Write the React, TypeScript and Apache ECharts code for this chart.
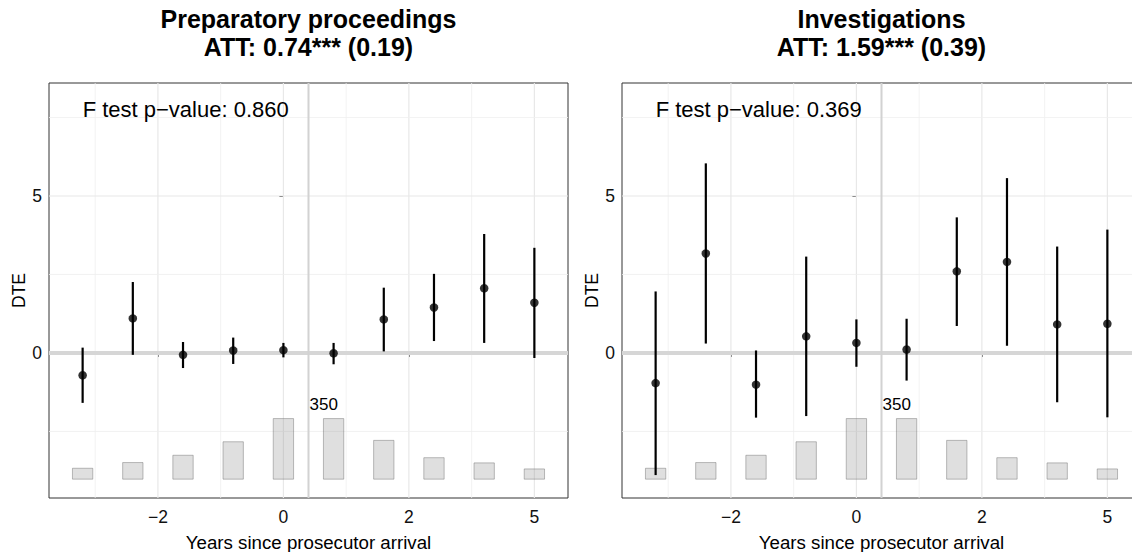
import React, { useEffect, useRef } from 'react';
import * as echarts from 'echarts';

// ---- data ----
const eventTimes = [-3.2, -2.4, -1.6, -0.8, 0, 0.8, 1.6, 2.4, 3.2, 4.0];
const xTickValues = [-2, 0, 2, 4];
const xTickLabels = ['−2', '0', '2', '5'];
const xMinorValues = [-3, -1, 1, 3];
const yTickValues = [0, 5];
const yMinorValues = [-2.5, 2.5, 7.5];
const cohortCounts = [63, 96, 138, 216, 350, 350, 224, 124, 94, 59];
const arrivalLine = 0.4;

const prepEstimate = [-0.71, 1.1, -0.06, 0.08, 0.09, -0.01, 1.07, 1.45, 2.06, 1.6];
const prepLower = [-1.59, -0.06, -0.48, -0.35, -0.14, -0.36, 0.05, 0.38, 0.32, -0.16];
const prepUpper = [0.17, 2.26, 0.35, 0.49, 0.32, 0.32, 2.08, 2.52, 3.79, 3.35];

const invEstimate = [-0.96, 3.17, -1.01, 0.53, 0.32, 0.11, 2.6, 2.9, 0.91, 0.93];
const invLower = [-3.89, 0.3, -2.06, -2.01, -0.44, -0.88, 0.86, 0.23, -1.57, -2.05];
const invUpper = [1.96, 6.04, 0.08, 3.07, 1.07, 1.09, 4.32, 5.57, 3.39, 3.93];

const panelTitles = ['Preparatory proceedings', 'Investigations'];
const attLabels = ['ATT: 0.74*** (0.19)', 'ATT: 1.59*** (0.39)'];
const fTestLabels = ['F test p−value: 0.860', 'F test p−value: 0.369'];
const annotationPos = [-3.2, 7.75];

const panels = [
  { est: prepEstimate, lo: prepLower, hi: prepUpper },
  { est: invEstimate, lo: invLower, hi: invUpper },
];

// ---- layout / style constants ----
const FONT = "'Liberation Sans', Arial, Helvetica, sans-serif";
const X_MIN = -3.736;
const X_MAX = 4.536;
const Y_MIN = -4.62;
const Y_MAX = 8.6;
const BAR_BASE = -4.02;
const BAR_SPAN = 1.93;
const BAR_HALF = 0.162;
const grids = [
  { left: 49, top: 83, width: 519, height: 415 },
  { left: 622, top: 83, width: 519, height: 415 },
];
const ruleStyles = [
  { color: '#efefef', width: 0.8 },
  { color: '#e8e8e8', width: 1.2 },
  { color: '#d6d6d6', width: 4 },
  { color: '#d2d2d2', width: 2 },
];

function ruleSeries(i: number, vertical: boolean, rows: number[][], z: number) {
  return {
    type: 'custom',
    xAxisIndex: i,
    yAxisIndex: i,
    silent: true,
    z,
    encode: vertical ? { x: 0, y: 1 } : { y: 0, x: 1 },
    data: rows,
    renderItem: (params: any, api: any) => {
      const cs = params.coordSys;
      const s = ruleStyles[api.value(1)];
      if (vertical) {
        const x = api.coord([api.value(0), 0])[0];
        return {
          type: 'line',
          shape: { x1: x, y1: cs.y, x2: x, y2: cs.y + cs.height },
          style: { stroke: s.color, lineWidth: s.width },
        };
      }
      const y = api.coord([0, api.value(0)])[1];
      return {
        type: 'line',
        shape: { x1: cs.x, y1: y, x2: cs.x + cs.width, y2: y },
        style: { stroke: s.color, lineWidth: s.width },
      };
    },
  };
}

function buildOption() {
  const maxCount = Math.max(...cohortCounts);
  const xAxis: any[] = [];
  const yAxis: any[] = [];
  const series: any[] = [];
  const title: any[] = [];

  panels.forEach((p, i) => {
    title.push({
      text: panelTitles[i] + '\n' + attLabels[i],
      left: grids[i].left + grids[i].width / 2,
      top: 5,
      textAlign: 'center',
      padding: 0,
      textStyle: { fontFamily: FONT, fontSize: 25, fontWeight: 'bold', color: '#000', lineHeight: 28 },
    });
    xAxis.push({
      type: 'value',
      gridIndex: i,
      min: X_MIN,
      max: X_MAX,
      axisLine: { show: false },
      splitLine: { show: false },
      axisTick: { show: true, customValues: xTickValues, length: 4, lineStyle: { color: '#333' } },
      axisLabel: {
        customValues: xTickValues,
        margin: 10,
        fontFamily: FONT,
        fontSize: 17.5,
        color: '#111',
        formatter: (v: number) => {
          const k = xTickValues.indexOf(v);
          return k >= 0 ? xTickLabels[k] : '';
        },
      },
      name: 'Years since prosecutor arrival',
      nameLocation: 'middle',
      nameGap: 35,
      nameTextStyle: { fontFamily: FONT, fontSize: 18.7, color: '#000' },
    });
    yAxis.push({
      type: 'value',
      gridIndex: i,
      min: Y_MIN,
      max: Y_MAX,
      axisLine: { show: false },
      splitLine: { show: false },
      axisTick: { show: true, customValues: yTickValues, length: 4, lineStyle: { color: '#333' } },
      axisLabel: {
        customValues: yTickValues,
        margin: 7,
        fontFamily: FONT,
        fontSize: 17.5,
        color: '#111',
        formatter: (v: number) => String(v),
      },
      name: 'DTE',
      nameLocation: 'middle',
      nameGap: 21,
      nameTextStyle: { fontFamily: FONT, fontSize: 17.5, color: '#000' },
    });

    // gridlines
    series.push(
      ruleSeries(i, true, [...xMinorValues.map((v) => [v, 0]), ...xTickValues.map((v) => [v, 1])], 1)
    );
    series.push(
      ruleSeries(i, false, [...yMinorValues.map((v) => [v, 0]), ...yTickValues.map((v) => [v, 1])], 1)
    );

    // cohort-size bars
    series.push({
      type: 'custom',
      xAxisIndex: i,
      yAxisIndex: i,
      silent: true,
      z: 2,
      encode: { x: 0, y: 1 },
      data: eventTimes.map((x, j) => [x, cohortCounts[j]]),
      renderItem: (params: any, api: any) => {
        const x = api.value(0);
        const top = BAR_BASE + (api.value(1) / maxCount) * BAR_SPAN;
        const p1 = api.coord([x - BAR_HALF, top]);
        const p2 = api.coord([x + BAR_HALF, BAR_BASE]);
        return {
          type: 'rect',
          shape: { x: p1[0], y: p1[1], width: p2[0] - p1[0], height: p2[1] - p1[1] },
          style: { fill: 'rgba(128,128,128,0.25)', stroke: 'rgba(100,100,100,0.42)', lineWidth: 1 },
        };
      },
    });

    // reference lines
    series.push(ruleSeries(i, false, [[0, 2]], 3));
    series.push(ruleSeries(i, true, [[arrivalLine, 3]], 3));

    // max count label
    series.push({
      type: 'custom',
      xAxisIndex: i,
      yAxisIndex: i,
      silent: true,
      z: 3,
      encode: { x: 0, y: 1 },
      data: [[arrivalLine, maxCount]],
      renderItem: (params: any, api: any) => {
        const top = BAR_BASE + (api.value(1) / maxCount) * BAR_SPAN;
        const pt = api.coord([api.value(0), top]);
        return {
          type: 'text',
          x: pt[0] + 1,
          y: pt[1] - 6,
          style: {
            text: String(api.value(1)),
            fill: '#000',
            fontFamily: FONT,
            fontSize: 17,
            align: 'left',
            textAlign: 'left',
            verticalAlign: 'bottom',
            textVerticalAlign: 'bottom',
          },
        };
      },
    });

    // error bars
    series.push({
      type: 'custom',
      xAxisIndex: i,
      yAxisIndex: i,
      silent: true,
      z: 4,
      encode: { x: 0, y: [1, 2] },
      data: eventTimes.map((x, j) => [x, p.lo[j], p.hi[j]]),
      renderItem: (params: any, api: any) => {
        const a = api.coord([api.value(0), api.value(1)]);
        const b = api.coord([api.value(0), api.value(2)]);
        return {
          type: 'line',
          shape: { x1: a[0], y1: a[1], x2: b[0], y2: b[1] },
          style: { stroke: '#000', lineWidth: 2.2 },
        };
      },
    });

    // point estimates
    series.push({
      type: 'scatter',
      xAxisIndex: i,
      yAxisIndex: i,
      silent: true,
      z: 5,
      symbol: 'circle',
      symbolSize: 8.5,
      itemStyle: { color: '#000' },
      data: eventTimes.map((x, j) => [x, p.est[j]]),
    });

    // F test annotation
    series.push({
      type: 'custom',
      xAxisIndex: i,
      yAxisIndex: i,
      silent: true,
      z: 5,
      encode: { x: 0, y: 1 },
      data: [annotationPos],
      renderItem: (params: any, api: any) => {
        const pt = api.coord([api.value(0), api.value(1)]);
        return {
          type: 'text',
          x: pt[0],
          y: pt[1],
          style: {
            text: fTestLabels[i],
            fill: '#000',
            fontFamily: FONT,
            fontSize: 22,
            align: 'left',
            textAlign: 'left',
            verticalAlign: 'middle',
            textVerticalAlign: 'middle',
          },
        };
      },
    });
  });

  return {
    animation: false,
    backgroundColor: '#fff',
    title,
    grid: grids.map((g) => ({
      ...g,
      show: true,
      borderColor: '#333',
      borderWidth: 1,
      backgroundColor: 'transparent',
      containLabel: false,
      outerBoundsMode: 'none',
    })),
    xAxis,
    yAxis,
    series,
  };
}

export default function App() {
  const ref = useRef<HTMLDivElement>(null);
  useEffect(() => {
    if (!ref.current) return;
    const chart = echarts.init(ref.current, undefined, { renderer: 'svg' });
    chart.setOption(buildOption() as any);
    return () => chart.dispose();
  }, []);
  return (
    <div
      ref={ref}
      style={{ position: 'fixed', left: 0, top: 0, width: 1132, height: 552, background: '#fff' }}
    />
  );
}
